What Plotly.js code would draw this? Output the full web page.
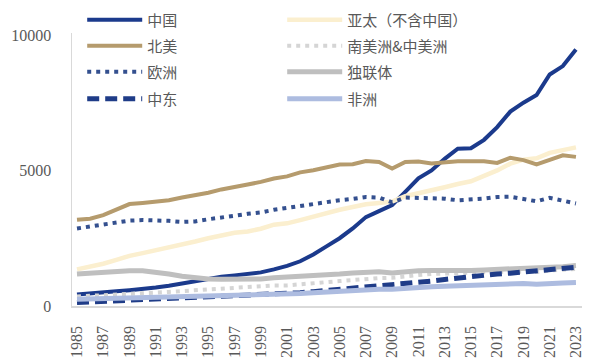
<!DOCTYPE html>
<html>
<head>
<meta charset="utf-8">
<script src="https://cdn.plot.ly/plotly-3.0.1.min.js"></script>
<style>html,body{margin:0;padding:0;background:#fff;}#chart{width:605px;height:364px;}</style>
</head>
<body>
<div id="chart"></div>
<script>
const years = [1985,1986,1987,1988,1989,1990,1991,1992,1993,1994,1995,1996,1997,1998,1999,2000,2001,2002,2003,2004,2005,2006,2007,2008,2009,2010,2011,2012,2013,2014,2015,2016,2017,2018,2019,2020,2021,2022,2023];

const china = [420,450,490,540,580,620,680,750,840,930,1010,1080,1130,1170,1240,1350,1480,1650,1900,2200,2500,2860,3280,3500,3720,4210,4710,5000,5430,5800,5820,6130,6600,7170,7500,7780,8540,8850,9460];
const asiaPacific = [1350,1450,1560,1700,1850,1950,2050,2150,2250,2380,2500,2600,2700,2750,2850,3000,3050,3170,3300,3450,3550,3650,3750,3800,3850,4050,4150,4250,4380,4500,4600,4800,5000,5250,5400,5450,5650,5750,5850];
const northAmerica = [3180,3220,3350,3550,3760,3800,3850,3900,4000,4080,4180,4300,4380,4480,4580,4700,4780,4930,5010,5100,5220,5230,5350,5310,5070,5310,5330,5260,5310,5340,5340,5340,5280,5470,5380,5220,5390,5560,5500];
const southCentralAmerica = [350,370,400,420,450,470,500,520,550,580,610,640,680,710,730,760,760,790,830,880,920,960,1000,1030,1040,1100,1140,1180,1200,1230,1250,1250,1260,1270,1270,1250,1310,1340,1370];
const europe = [2860,2930,3000,3080,3150,3170,3160,3140,3100,3120,3200,3280,3330,3400,3450,3550,3620,3700,3780,3850,3900,3950,4020,4000,3820,4000,3980,3990,3960,3900,3920,3960,4020,4030,3950,3860,3990,3880,3780];
const cis = [1180,1220,1260,1290,1300,1300,1260,1180,1100,1030,1000,990,990,970,1000,1040,1060,1090,1120,1160,1180,1220,1240,1260,1220,1270,1300,1310,1300,1310,1310,1330,1350,1380,1390,1380,1440,1450,1490];
const middleEast = [130,150,170,190,210,230,240,260,280,300,320,340,360,390,410,440,460,490,530,570,610,650,700,740,790,820,870,920,980,1040,1090,1130,1180,1210,1250,1280,1330,1380,1430];
const africa = [250,260,275,290,300,315,325,330,340,350,360,380,390,400,410,430,440,460,490,520,550,570,600,620,620,660,680,710,730,750,760,780,800,820,830,800,840,850,870];

const tickYears = [1985,1987,1989,1991,1993,1995,1997,1999,2001,2003,2005,2007,2009,2011,2013,2015,2017,2019,2021,2023];
const yTicks = [0,5000,10000];

const names = ['中国','亚太（不含中国）','北美','南美洲&中美洲','欧洲','独联体','中东','非洲'];

function tr(name, y, color, width, dash, lg) {
  return {x: years, y: y, name: name, type: 'scatter', mode: 'lines', legend: lg,
    line: {color: color, width: width, dash: dash || 'solid'}, hoverinfo: 'skip'};
}

const data = [
  tr(names[0], china, '#1B3A8C', 4, null, 'legend'),
  tr(names[1], asiaPacific, '#FBEFCF', 4.5, null, 'legend'),
  tr(names[2], northAmerica, '#B59B6D', 4, null, 'legend2'),
  tr(names[3], southCentralAmerica, '#D5D5D5', 4, '4px,5px', 'legend2'),
  tr(names[4], europe, '#34508F', 4, '4px,5px', 'legend3'),
  tr(names[5], cis, '#BFBFBF', 5, null, 'legend3'),
  tr(names[6], middleEast, '#1F3C88', 5, '12px,6px', 'legend4'),
  tr(names[7], africa, '#ADBCE0', 5, null, 'legend4')
];

function lg(yPaper) {
  return {
    orientation: 'h', x: 0.02, xanchor: 'left', y: yPaper, yanchor: 'middle',
    entrywidth: 130, entrywidthmode: 'pixels', itemwidth: 55,
    font: {family: 'Noto Sans CJK SC', size: 15, color: '#595959'},
    bgcolor: 'rgba(0,0,0,0)'
  };
}

const layout = {
  width: 605, height: 364,
  margin: {l: 72, r: 23, t: 33, b: 58, autoexpand: false},
  paper_bgcolor: '#ffffff', plot_bgcolor: '#ffffff',
  showlegend: true,
  legend: lg(1.0476),
  legend2: lg(0.952),
  legend3: lg(0.857),
  legend4: lg(0.758),
  xaxis: {
    range: [1984.62, 2023.46], tickmode: 'array', tickvals: tickYears,
    ticktext: tickYears.map(String), tickangle: -90,
    showgrid: false, zeroline: false, showline: true, linecolor: '#D9D9D9', linewidth: 1.5,
    ticks: '', ticklabelstandoff: 12,
    tickfont: {family: 'Liberation Serif', size: 16, color: '#595959'}
  },
  yaxis: {
    range: [0, 10070], tickmode: 'array', tickvals: yTicks, ticktext: yTicks.map(String),
    showgrid: false, zeroline: false, showline: true, linecolor: '#D9D9D9', linewidth: 1.5,
    ticks: '', ticklabelstandoff: 16,
    tickfont: {family: 'Liberation Serif', size: 16, color: '#595959'}
  }
};

Plotly.newPlot('chart', data, layout, {displayModeBar: false, staticPlot: true});
</script>
</body>
</html>
